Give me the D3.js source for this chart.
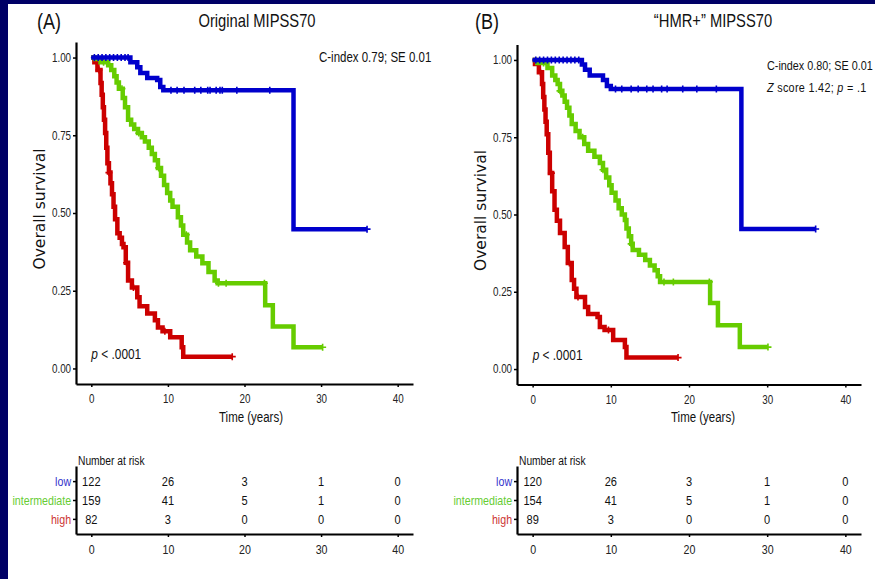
<!DOCTYPE html>
<html>
<head>
<meta charset="utf-8">
<script src="https://cdn.jsdelivr.net/npm/d3@7"></script>
<style>
  body { margin: 0; background: #000066; }
  svg { display: block; }
</style>
</head>
<body>
<div id="chart"></div>
<script>
// two KM panels side by side + number-at-risk tables

var w = 875;
var h = 579;

var groups = ["low", "intermediate", "high"];
var colors = {low: "#0000cc", intermediate: "#66cc00", high: "#cc0000"};
var labelColors = {low: "#3333cc", intermediate: "#66cc33", high: "#cc3333"};

var xTicks = [0, 10, 20, 30, 40];
var yTicks = [0, 0.25, 0.5, 0.75, 1];

// step points [time, survival], plus last follow-up time
var lowA = [[0, 1], [5.1, 0.985], [6.0, 0.969], [6.4, 0.95], [7.3, 0.934], [8.6, 0.928], [9.0, 0.905], [9.4, 0.895], [26.4, 0.448]];
var lowAEnd = 36;
var intA = [[0, 1], [0.5, 0.995], [1.2, 0.985], [2.2, 0.975], [2.6, 0.96], [3.0, 0.94], [3.3, 0.92], [3.6, 0.9], [4.1, 0.87],
            [4.4, 0.84], [4.8, 0.8], [5.2, 0.785], [5.6, 0.77], [6.1, 0.757], [6.6, 0.744], [7.0, 0.73], [7.5, 0.71],
            [7.9, 0.69], [8.3, 0.67], [8.7, 0.645], [9.1, 0.62], [9.5, 0.59], [9.9, 0.564], [10.3, 0.54], [10.6, 0.52],
            [11.3, 0.486], [11.7, 0.46], [12.0, 0.43], [12.5, 0.405], [12.9, 0.38], [13.7, 0.36], [14.5, 0.338],
            [15.3, 0.31], [16.1, 0.283], [16.5, 0.274], [22.7, 0.203], [23.7, 0.135], [26.4, 0.068]];
var intAEnd = 30.2;
var highA = [[0, 1], [0.4, 0.985], [0.8, 0.96], [1.2, 0.918], [1.35, 0.88], [1.5, 0.84], [1.65, 0.8], [1.8, 0.757],
             [1.95, 0.71], [2.1, 0.66], [2.3, 0.63], [2.5, 0.596], [2.7, 0.56], [2.9, 0.52], [3.1, 0.48], [3.4, 0.435],
             [3.7, 0.42], [4.0, 0.4], [4.2, 0.39], [4.5, 0.34], [4.8, 0.283], [5.3, 0.26], [6.0, 0.229], [6.3, 0.2],
             [7.3, 0.177], [8.3, 0.155], [8.7, 0.132], [9.3, 0.12], [10.3, 0.1], [11.8, 0.068], [12.0, 0.038]];
var highAEnd = 18.4;

var lowB = [[0, 1], [6.3, 0.985], [6.7, 0.968], [7.3, 0.95], [9.0, 0.935], [9.5, 0.916], [10.0, 0.906], [26.7, 0.453]];
var lowBEnd = 36.2;
var intB = [[0, 1], [0.6, 0.99], [1.9, 0.974], [2.5, 0.95], [2.9, 0.935], [3.2, 0.922], [3.5, 0.9], [3.8, 0.885],
            [4.1, 0.865], [4.4, 0.845], [4.7, 0.82], [5.0, 0.793], [5.5, 0.77], [6.0, 0.75], [6.6, 0.728], [7.1, 0.706],
            [7.9, 0.687], [8.6, 0.667], [9.0, 0.645], [9.4, 0.62], [9.8, 0.595], [10.1, 0.57], [10.6, 0.545], [11.0, 0.52],
            [11.4, 0.5], [11.8, 0.482], [12.0, 0.455], [12.3, 0.43], [12.6, 0.405], [12.8, 0.385], [13.6, 0.37],
            [14.4, 0.353], [15.0, 0.335], [15.6, 0.32], [16.0, 0.3], [16.3, 0.282], [22.7, 0.214], [23.7, 0.142], [26.5, 0.071]];
var intBEnd = 30.1;
var highB = [[0, 1], [0.3, 0.987], [0.8, 0.96], [1.2, 0.922], [1.35, 0.88], [1.5, 0.84], [1.65, 0.8], [1.8, 0.76],
             [2.0, 0.7], [2.2, 0.634], [2.5, 0.575], [2.8, 0.515], [3.1, 0.48], [3.5, 0.44], [4.1, 0.395], [4.5, 0.343],
             [5.0, 0.288], [5.3, 0.26], [5.6, 0.233], [6.7, 0.201], [7.1, 0.178], [8.3, 0.168], [8.6, 0.136], [9.2, 0.126],
             [10.3, 0.094], [11.8, 0.071], [12.0, 0.037]];
var highBEnd = 18.6;

// censor times
var censLowA = [0.4, 0.9, 1.4, 1.9, 2.4, 2.9, 3.4, 3.9, 4.4, 4.8, 10.4, 11.2, 12.1, 13.5, 14.3, 15.2, 15.5, 16.3, 16.8, 17.1, 19.0, 23.3, 36];
var censIntA = [1.6, 4.0, 6.2, 8.8, 12.4, 16.6, 17.6, 22.6, 30.2];
var censHighA = [1.0, 2.3, 4.6, 5.5, 9.6, 18.4];
var censLowB = [0.4, 0.9, 1.4, 1.9, 2.4, 2.9, 3.4, 3.9, 4.4, 4.9, 5.4, 5.9, 10.6, 11.4, 12.6, 13.5, 14.6, 15.4, 16.5, 17.2, 19.2, 21.0, 23.5, 36.2];
var censIntB = [1.4, 3.5, 6.4, 9.0, 12.6, 16.8, 18.0, 22.6, 30.1];
var censHighB = [1.0, 2.4, 4.7, 5.8, 9.7, 18.6];

// number at risk at 0,10,20,30,40
var riskA = {low: [122, 26, 3, 1, 0], intermediate: [159, 41, 5, 1, 0], high: [82, 3, 0, 0, 0]};
var riskB = {low: [120, 26, 3, 1, 0], intermediate: [154, 41, 5, 1, 0], high: [89, 3, 0, 0, 0]};

// no condensed font installed: squeeze Liberation Sans horizontally
var narrow = "'Liberation Sans', Arial, sans-serif";
var sx = 0.82;

var svg = d3.select("#chart")
            .append("svg")
            .attr("width", w)
            .attr("height", h);

svg.append("rect").attr("width", w).attr("height", h).attr("fill", "#000066");
svg.append("rect").attr("x", 8).attr("y", 4).attr("width", w - 8).attr("height", h - 4).attr("fill", "#fff");

function ntext(x, y, size) {
  return svg.append("text")
            .attr("transform", "translate(" + x + "," + y + ") scale(" + sx + ",1)")
            .attr("font-family", narrow)
            .attr("font-size", size)
            .attr("fill", "#111");
}

var panels = [
  {tag: "(A)", tagX: 37, title: "Original MIPSS70", titleX: 257, x0: 76, x1: 413, yTop: 42, yBot: 384, timeX: 251,
   curves: {low: [lowA, lowAEnd, censLowA], intermediate: [intA, intAEnd, censIntA], high: [highA, highAEnd, censHighA]},
   stats: ["C-index 0.79; SE 0.01"], statX: 319, statY: 62, statSize: 14, risk: riskA},
  {tag: "(B)", tagX: 475, title: "\u201cHMR+\u201d MIPSS70", titleX: 713, x0: 517, x1: 861, yTop: 44.5, yBot: 384.5, timeX: 703,
   curves: {low: [lowB, lowBEnd, censLowB], intermediate: [intB, intBEnd, censIntB], high: [highB, highBEnd, censHighB]},
   stats: ["C-index 0.80; SE 0.01", "Z score 1.42; p = .1"], statX: 767, statY: 70, statSize: 13.2, risk: riskB}
];

panels.forEach(function (p) {
  var x = d3.scaleLinear().domain([-2, 42]).range([p.x0, p.x1]);
  var y = d3.scaleLinear().domain([-0.05, 1.05]).range([p.yBot, p.yTop]);

  // headings
  ntext(p.tagX, 29, 22).text(p.tag);
  ntext(p.titleX, 27, 18).attr("text-anchor", "middle").text(p.title);

  p.stats.forEach(function (s, i) {
    var t = ntext(p.statX, p.statY + i * 22, p.statSize);
    if (s.indexOf("Z score") === 0) {
      t.attr("textLength", 121).attr("lengthAdjust", "spacing");
      t.append("tspan").attr("font-style", "italic").text("Z");
      t.append("tspan").text(" score 1.42; ");
      t.append("tspan").attr("font-style", "italic").text("p");
      t.append("tspan").text(" = .1");
    } else {
      t.text(s);
    }
  });

  // curves
  var line = d3.line()
               .x(function (d) { return x(d[0]); })
               .y(function (d) { return y(d[1]); })
               .curve(d3.curveStepAfter);

  groups.slice().reverse().forEach(function (g) {
    var c = p.curves[g];
    var pts = c[0].slice();
    pts.push([c[1], pts[pts.length - 1][1]]);
    svg.append("path")
       .datum(pts)
       .attr("d", line)
       .attr("fill", "none")
       .attr("stroke", colors[g])
       .attr("stroke-width", 4.5)
       .attr("stroke-linejoin", "miter");

    // survival at a censor time
    function surv(t) {
      var s = 1;
      c[0].forEach(function (d) { if (d[0] <= t) s = d[1]; });
      return s;
    }
    svg.append("g").selectAll("path")
       .data(c[2])
       .enter()
       .append("path")
       .attr("transform", function (t) { return "translate(" + x(t) + "," + y(surv(t)) + ")"; })
       .attr("d", "M-3.5,0H3.5M0,-3.5V3.5")
       .attr("stroke", colors[g])
       .attr("stroke-width", 1.6);
  });

  // axes
  var gy = svg.append("g").attr("transform", "translate(" + p.x0 + ",0)")
              .call(d3.axisLeft(y).tickValues(yTicks).tickFormat(d3.format(".2f")).tickSize(3).tickSizeOuter(0));
  var gx = svg.append("g").attr("transform", "translate(0," + p.yBot + ")")
              .call(d3.axisBottom(x).tickValues(xTicks).tickSize(3).tickSizeOuter(0));
  [gy, gx].forEach(function (g) {
    g.select(".domain").attr("stroke-width", 2.2);
    g.selectAll(".tick line").attr("stroke-width", 1.5);
    g.selectAll("text").attr("font-family", narrow).attr("font-size", 12).attr("fill", "#222")
     .attr("transform", "scale(" + sx + ",1)");
  });
  gx.selectAll("text").attr("dy", "1.1em");

  svg.append("text")
     .attr("transform", "translate(" + (p.x0 - 31) + "," + ((p.yTop + p.yBot) / 2 - 4) + ") rotate(-90)")
     .attr("text-anchor", "middle")
     .attr("font-family", "'DejaVu Sans', sans-serif")
     .attr("font-size", 15.5)
     .attr("fill", "#111")
     .text("Overall survival");

  ntext(p.timeX, 422, 14).attr("text-anchor", "middle").text("Time (years)");

  var pv = ntext(x(0), y(0.03), 14.5);
  pv.append("tspan").attr("font-style", "italic").text("p");
  pv.append("tspan").text(" < .0001");

  // number at risk table
  ntext(p.x0 + 2, 465, 12.5).text("Number at risk");

  var ry = d3.scalePoint().domain(["high", "intermediate", "low"]).range([534, 466]).padding(0.8);

  var ga = svg.append("g").attr("transform", "translate(" + p.x0 + ",0)")
              .call(d3.axisLeft(ry).tickSize(3).tickSizeOuter(0));
  var gb = svg.append("g").attr("transform", "translate(0,534)")
              .call(d3.axisBottom(x).tickValues(xTicks).tickSize(3).tickSizeOuter(0));
  [ga, gb].forEach(function (g) {
    g.select(".domain").attr("stroke-width", 2.2);
    g.selectAll(".tick line").attr("stroke-width", 1.5);
    g.selectAll("text").attr("font-family", narrow).attr("font-size", 13)
     .attr("transform", "scale(" + sx + ",1)");
  });
  ga.selectAll("text").attr("fill", function (d) { return labelColors[d]; });
  gb.selectAll("text").attr("dy", "1.1em").attr("fill", "#222");

  groups.forEach(function (g) {
    p.risk[g].forEach(function (d, i) {
      ntext(x(xTicks[i]), ry(g), 13.5).attr("dy", "0.35em").attr("text-anchor", "middle").text(d);
    });
  });
});
</script>
</body>
</html>
